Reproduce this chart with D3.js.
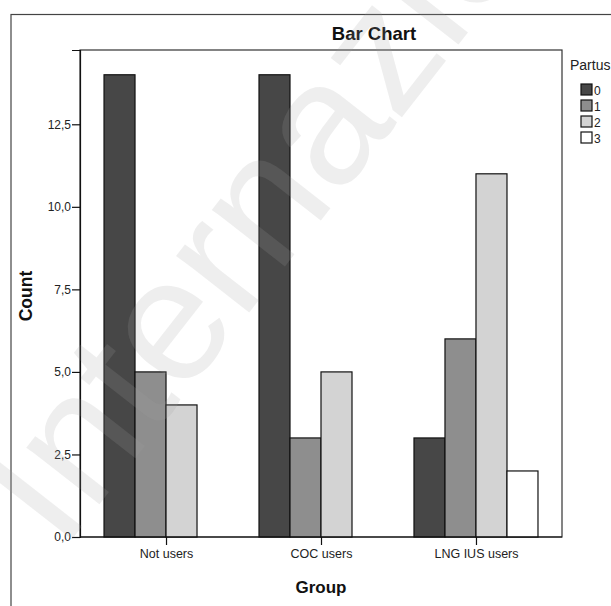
<!DOCTYPE html>
<html>
<head>
<meta charset="utf-8">
<script src="https://cdn.jsdelivr.net/npm/d3@7"></script>
<style>
  html, body { margin: 0; padding: 0; background: #fff; }
  svg { display: block; font-family: "Liberation Sans", Arial, sans-serif; }
</style>
</head>
<body>
<svg id="chart" width="611" height="606"></svg>
<script>
// Categories and counts per Partus level
const groups = ["Not users", "COC users", "LNG IUS users"];
const partusLevels = ["0", "1", "2", "3"];
const partus0 = [14, 14, 3];
const partus1 = [5, 3, 6];
const partus2 = [4, 5, 11];
const partus3 = [0, 0, 2];
const yTicks = [0, 2.5, 5, 7.5, 10, 12.5];
const fills = ["#474747", "#8e8e8e", "#d3d3d3", "#ffffff"];

const seriesValues = [partus0, partus1, partus2, partus3];
const rows = [];
groups.forEach((g, gi) => {
  partusLevels.forEach((p, pi) => {
    rows.push({ group: g, partus: p, value: seriesValues[pi][gi], idx: pi });
  });
});

const svg = d3.select("#chart");

// outer chart frame (extends past the window edges)
svg.append("rect")
  .attr("x", 11).attr("y", 14.5)
  .attr("width", 700).attr("height", 700)
  .attr("fill", "none").attr("stroke", "#444").attr("stroke-width", 1.2);

const plot = { left: 80, right: 562, top: 50, bottom: 537 };

const x = d3.scalePoint().domain(groups)
  .range([plot.left, plot.right]).padding(0.555);
const xs = d3.scaleBand().domain(partusLevels).range([-62, 62]).padding(0);
const y = d3.scaleLinear().domain([0, 14.75]).range([plot.bottom, plot.top]);

// plot frame
svg.append("rect")
  .attr("x", plot.left).attr("y", plot.top)
  .attr("width", plot.right - plot.left).attr("height", plot.bottom - plot.top)
  .attr("fill", "none").attr("stroke", "#333").attr("stroke-width", 1.2);

// bars
svg.append("g").selectAll("rect")
  .data(rows.filter(d => d.value > 0))
  .join("rect")
  .attr("x", d => x(d.group) + xs(d.partus))
  .attr("y", d => y(d.value))
  .attr("width", xs.bandwidth())
  .attr("height", d => y(0) - y(d.value))
  .attr("fill", d => fills[d.idx])
  .attr("stroke", "#111")
  .attr("stroke-width", 1.2);

// y axis
const yAxis = d3.axisLeft(y).tickValues(yTicks)
  .tickFormat(d => d3.format(".1f")(d).replace(".", ","))
  .tickSize(8).tickPadding(1);
const gy = svg.append("g").attr("transform", `translate(${plot.left},0)`).call(yAxis);
gy.select(".domain").attr("stroke", "#111").attr("stroke-width", 1.2);
gy.selectAll(".tick line").attr("stroke", "#111").attr("stroke-width", 1.2);
gy.selectAll(".tick text").attr("font-size", 12).attr("fill", "#222")
  .attr("font-family", "Liberation Sans, Arial, sans-serif");

// x axis
const xAxis = d3.axisBottom(x).tickSize(8).tickPadding(4);
const gx = svg.append("g").attr("transform", `translate(0,${plot.bottom})`).call(xAxis);
gx.select(".domain").remove();
gx.selectAll(".tick line").attr("stroke", "#111").attr("stroke-width", 1.2);
gx.selectAll(".tick text").attr("font-size", 12.5).attr("fill", "#222")
  .attr("font-family", "Liberation Sans, Arial, sans-serif");
svg.append("line")
  .attr("x1", plot.left).attr("x2", plot.right)
  .attr("y1", plot.bottom).attr("y2", plot.bottom)
  .attr("stroke", "#111").attr("stroke-width", 1.2);

// titles
svg.append("text").text("Bar Chart")
  .attr("x", 374).attr("y", 40).attr("text-anchor", "middle")
  .attr("font-size", 18.5).attr("font-weight", "bold").attr("fill", "#111");
svg.append("text").text("Group")
  .attr("x", 321).attr("y", 593).attr("text-anchor", "middle")
  .attr("font-size", 17).attr("font-weight", "bold").attr("fill", "#111");
svg.append("text").text("Count")
  .attr("transform", "translate(32,296) rotate(-90)")
  .attr("text-anchor", "middle")
  .attr("font-size", 17.5).attr("font-weight", "bold").attr("fill", "#111");

// legend
const legend = svg.append("g").attr("transform", "translate(570,0)");
legend.append("text").text("Partus")
  .attr("x", 0).attr("y", 70).attr("font-size", 14).attr("fill", "#222");
const li = legend.selectAll("g.item").data(partusLevels).join("g")
  .attr("class", "item")
  .attr("transform", (d, i) => `translate(11,${84 + i * 16})`);
li.append("rect").attr("x", 0).attr("y", 0).attr("width", 11).attr("height", 11)
  .attr("fill", (d, i) => fills[i]).attr("stroke", "#111").attr("stroke-width", 1.2);
li.append("text").text(d => d).attr("x", 13).attr("y", 10.5)
  .attr("font-size", 12).attr("fill", "#222");

// faint diagonal watermark over the whole chart
svg.append("text").text("Internazionale")
  .attr("transform", "translate(62,552) rotate(-52)")
  .attr("font-size", 175)
  .attr("fill", "#a0a0a0").attr("fill-opacity", 0.18);
</script>
</body>
</html>
